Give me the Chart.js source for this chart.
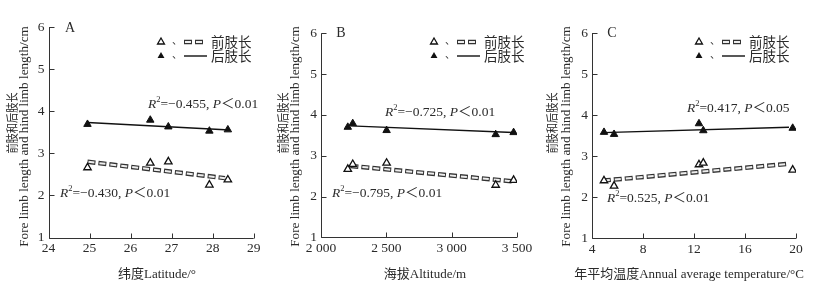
<!DOCTYPE html>
<html>
<head>
<meta charset="utf-8">
<script src="https://cdn.jsdelivr.net/npm/chart.js@4.4.0/dist/chart.umd.min.js"></script>
<style>
  html, body { margin: 0; padding: 0; background: #fff; }
  #wrap { position: relative; width: 825px; height: 293px; }
  .panel { position: absolute; top: 0; height: 293px; }
</style>
</head>
<body>
<div id="wrap">
  <div class="panel" style="left:0;width:275px"><canvas id="chartA"></canvas></div>
  <div class="panel" style="left:275px;width:270px"><canvas id="chartB"></canvas></div>
  <div class="panel" style="left:545px;width:280px"><canvas id="chartC"></canvas></div>
</div>
<script>
// values
const latitude = [24.95, 26.48, 26.92, 27.92, 28.37];
const latFore = [2.66, 2.77, 2.80, 2.25, 2.37];
const latHind = [3.69, 3.79, 3.63, 3.53, 3.56];
const latFitX = [24.95, 28.3];
const latFitFore = [2.80, 2.41];
const latFitHind = [3.73, 3.56];

const altitude = [2205, 2243, 2502, 3337, 3474];
const altFore = [2.67, 2.79, 2.82, 2.28, 2.40];
const altHind = [3.70, 3.79, 3.62, 3.52, 3.57];
const altFitX = [2225, 3472];
const altFitFore = [2.75, 2.37];
const altFitHind = [3.73, 3.57];

const temperature = [4.94, 5.73, 12.39, 12.73, 19.74];
const tempFore = [2.40, 2.27, 2.79, 2.83, 2.66];
const tempHind = [3.58, 3.53, 3.79, 3.62, 3.68];
const tempFitX = [4.85, 19.45];
const tempFitFore = [2.40, 2.81];
const tempFitHind = [3.57, 3.70];

const yTicks = [1, 2, 3, 4, 5, 6];
const legendLabels = ["前肢长", "后肢长"];
const yTitleZh = "前肢和后肢长";
const yTitleEn = "Fore limb length and hind limb length/cm";
const xTitles = ["纬度Latitude/°", "海拔Altitude/m", "年平均温度Annual average temperature/°C"];
const panelLetters = ["A", "B", "C"];
// [R², P] for hind (upper) and fore (lower) fits
const notesA = [["−0.455", "0.01"], ["−0.430", "0.01"]];
const notesB = [["−0.725", "0.01"], ["−0.795", "0.01"]];
const notesC = [["0.417", "0.05"], ["0.525", "0.01"]];

const H = 293;
const SERIF = "'Liberation Serif', 'Noto Sans CJK SC', serif";
const INK = "#2a2a2a";

function pts(xs, ys) {
    return xs.map((x, i) => ({ x: x, y: ys[i] }));
}

function triangle(ctx, x, y, r, filled) {
    ctx.beginPath();
    ctx.moveTo(x, y - r);
    ctx.lineTo(x + r * 0.866, y + r / 2);
    ctx.lineTo(x - r * 0.866, y + r / 2);
    ctx.closePath();
    if (filled) {
        ctx.fillStyle = "#111";
        ctx.fill();
    } else {
        ctx.fillStyle = "#fff";
        ctx.fill();
        ctx.lineWidth = 1.3;
        ctx.strokeStyle = "#111";
        ctx.stroke();
    }
}

function hollowDash(ctx, x1, y1, x2, y2) {
    ctx.save();
    ctx.beginPath();
    ctx.moveTo(x1, y1);
    ctx.lineTo(x2, y2);
    ctx.setLineDash([8, 3]);
    ctx.lineWidth = 4.5;
    ctx.strokeStyle = "#333";
    ctx.stroke();
    ctx.beginPath();
    ctx.moveTo(x1, y1);
    ctx.lineTo(x2, y2);
    ctx.setLineDash([6, 5]);
    ctx.lineDashOffset = -1;
    ctx.lineWidth = 2;
    ctx.strokeStyle = "#eee";
    ctx.stroke();
    ctx.restore();
}

function drawNote(ctx, x, y, note) {
    const parts = [
        ["R", "i"], ["2", "s"], ["=" + note[0] + ", ", "n"], ["P", "i"], ["＜" + note[1], "n"]
    ];
    ctx.textBaseline = "middle";
    ctx.textAlign = "left";
    ctx.fillStyle = INK;
    let cx = x;
    parts.forEach(([t, k]) => {
        if (k === "i") ctx.font = "italic 13.5px " + SERIF;
        else if (k === "s") ctx.font = "8.5px " + SERIF;
        else ctx.font = "13.5px " + SERIF;
        ctx.fillText(t, cx, k === "s" ? y - 4 : y);
        cx += ctx.measureText(t).width;
    });
}

const panelDeco = {
    id: "panelDeco",
    beforeDatasetsDraw(chart) {
        const ctx = chart.ctx, a = chart.chartArea;
        const sx = chart.scales.x, sy = chart.scales.y;
        const L = Math.round(a.left) + 0.5, B = Math.round(a.bottom) + 0.5;
        ctx.save();
        ctx.strokeStyle = "#333";
        ctx.lineWidth = 1;
        ctx.beginPath();
        ctx.moveTo(L, a.top);
        ctx.lineTo(L, B);
        ctx.lineTo(a.right, B);
        sx.ticks.forEach(t => {
            const px = Math.round(sx.getPixelForValue(t.value)) + 0.5;
            ctx.moveTo(px, B);
            ctx.lineTo(px, B - 5);
        });
        sy.ticks.forEach(t => {
            const py = Math.round(sy.getPixelForValue(t.value)) + 0.5;
            ctx.moveTo(L, py);
            ctx.lineTo(L + 5, py);
        });
        ctx.stroke();
        ctx.restore();
    },
    afterDraw(chart, args, o) {
        const ctx = chart.ctx;
        ctx.save();
        // panel letter
        ctx.fillStyle = INK;
        ctx.font = "14px " + SERIF;
        ctx.textAlign = "center";
        ctx.textBaseline = "middle";
        ctx.fillText(o.letter, o.letterX, o.letterY);

        // legend
        const lx = o.legendX;
        triangle(ctx, lx, 42, 4, false);
        triangle(ctx, lx, 56, 4, true);
        ctx.fillStyle = INK;
        ctx.font = "10px 'Noto Sans CJK SC'";
        ctx.textAlign = "center";
        ctx.fillText("、", lx + 16, 40);
        ctx.fillText("、", lx + 16, 54);
        hollowDash(ctx, lx + 23, 42, lx + 44, 42);
        ctx.strokeStyle = "#111";
        ctx.lineWidth = 1.4;
        ctx.beginPath();
        ctx.moveTo(lx + 23, 56);
        ctx.lineTo(lx + 46, 56);
        ctx.stroke();
        ctx.fillStyle = INK;
        ctx.font = "13.5px 'Noto Sans CJK SC'";
        ctx.textAlign = "left";
        ctx.fillText(legendLabels[0], lx + 50, 42);
        ctx.fillText(legendLabels[1], lx + 50, 56);

        // fit annotations
        drawNote(ctx, o.noteHind[0], o.noteHind[1], o.notes[0]);
        drawNote(ctx, o.noteFore[0], o.noteFore[1], o.notes[1]);

        // x title
        ctx.fillStyle = INK;
        ctx.font = "13px " + SERIF;
        ctx.textAlign = "center";
        ctx.textBaseline = "middle";
        ctx.fillText(o.xTitle, o.xTitleX, 275);

        // y titles (rotated)
        ctx.save();
        ctx.translate(o.enX, 136.5);
        ctx.rotate(-Math.PI / 2);
        ctx.font = "13.2px " + SERIF;
        ctx.fillText(yTitleEn, 0, 0);
        ctx.restore();
        ctx.save();
        ctx.translate(o.zhX, 123);
        ctx.rotate(-Math.PI / 2);
        ctx.scale(0.85, 1);
        ctx.font = "12px 'Noto Sans CJK SC'";
        ctx.fillText(yTitleZh, 0, 0);
        ctx.restore();
        ctx.restore();
    }
};

function makePanel(id, p) {
    const canvas = document.getElementById(id);
    const W = canvas.parentNode.clientWidth;
    return new Chart(canvas, {
        type: "scatter",
        data: {
            datasets: [
                {
                    data: pts(p.xs, p.hind), pointStyle: "triangle", pointRadius: 4.3,
                    backgroundColor: "#111", borderColor: "#111", borderWidth: 1, order: 0
                },
                {
                    data: pts(p.xs, p.fore), pointStyle: "triangle", pointRadius: 4.3,
                    backgroundColor: "#fff", borderColor: "#111", borderWidth: 1.3, order: 0
                },
                {
                    data: pts(p.fitX, p.fitHind), showLine: true, pointRadius: 0,
                    borderColor: "#111", borderWidth: 1.4, order: 2
                },
                {
                    data: pts(p.fitX, p.fitFore), showLine: true, pointRadius: 0,
                    borderColor: "#eee", borderWidth: 2, borderDash: [6, 5], borderDashOffset: -1, order: 2
                },
                {
                    data: pts(p.fitX, p.fitFore), showLine: true, pointRadius: 0,
                    borderColor: "#333", borderWidth: 4.5, borderDash: [8, 3], order: 3
                }
            ]
        },
        options: {
            responsive: true,
            maintainAspectRatio: false,
            animation: false,
            layout: { padding: { left: 0, top: p.box.top, right: W - p.box.right, bottom: 0 } },
            plugins: {
                legend: { display: false },
                tooltip: { enabled: false },
                panelDeco: p.deco
            },
            scales: {
                x: {
                    type: "linear", min: p.xMin, max: p.xMax,
                    grid: { display: false, drawTicks: false },
                    border: { display: false },
                    ticks: {
                        stepSize: p.xStep, padding: 3, color: INK,
                        font: { family: SERIF, size: 13.5 },
                        callback: p.xFormat
                    },
                    afterFit: s => { s.height = H - p.box.bottom; }
                },
                y: {
                    type: "linear", min: yTicks[0], max: yTicks[yTicks.length - 1],
                    grid: { display: false, drawTicks: false },
                    border: { display: false },
                    ticks: {
                        stepSize: 1, padding: 4, color: INK,
                        font: { family: SERIF, size: 13.5 }
                    },
                    afterFit: s => { s.width = p.box.left; }
                }
            }
        },
        plugins: [panelDeco]
    });
}

makePanel("chartA", {
    xs: latitude, fore: latFore, hind: latHind,
    fitX: latFitX, fitFore: latFitFore, fitHind: latFitHind,
    xMin: 24, xMax: 29, xStep: 1, xFormat: v => v,
    box: { left: 48.5, right: 253.7, top: 27, bottom: 237.5 },
    deco: {
        letter: panelLetters[0], letterX: 70, letterY: 28, legendX: 161,
        notes: notesA, noteHind: [148, 104], noteFore: [60, 193],
        xTitle: xTitles[0], xTitleX: 157, enX: 24.5, zhX: 12.5
    }
});

makePanel("chartB", {
    xs: altitude, fore: altFore, hind: altHind,
    fitX: altFitX, fitFore: altFitFore, fitHind: altFitHind,
    xMin: 2000, xMax: 3500, xStep: 500,
    xFormat: v => Math.floor(v / 1000) + " " + String(v % 1000).padStart(3, "0"),
    box: { left: 46, right: 242, top: 33.3, bottom: 237.3 },
    deco: {
        letter: panelLetters[1], letterX: 66, letterY: 33, legendX: 159,
        notes: notesB, noteHind: [110, 112], noteFore: [57, 193],
        xTitle: xTitles[1], xTitleX: 150, enX: 20.5, zhX: 8
    }
});

makePanel("chartC", {
    xs: temperature, fore: tempFore, hind: tempHind,
    fitX: tempFitX, fitFore: tempFitFore, fitHind: tempFitHind,
    xMin: 4, xMax: 20, xStep: 4, xFormat: v => v,
    box: { left: 47, right: 251, top: 33, bottom: 238 },
    deco: {
        letter: panelLetters[2], letterX: 67, letterY: 33, legendX: 154,
        notes: notesC, noteHind: [142, 108], noteFore: [62, 198],
        xTitle: xTitles[2], xTitleX: 144, enX: 22, zhX: 7.5
    }
});
</script>
</body>
</html>
